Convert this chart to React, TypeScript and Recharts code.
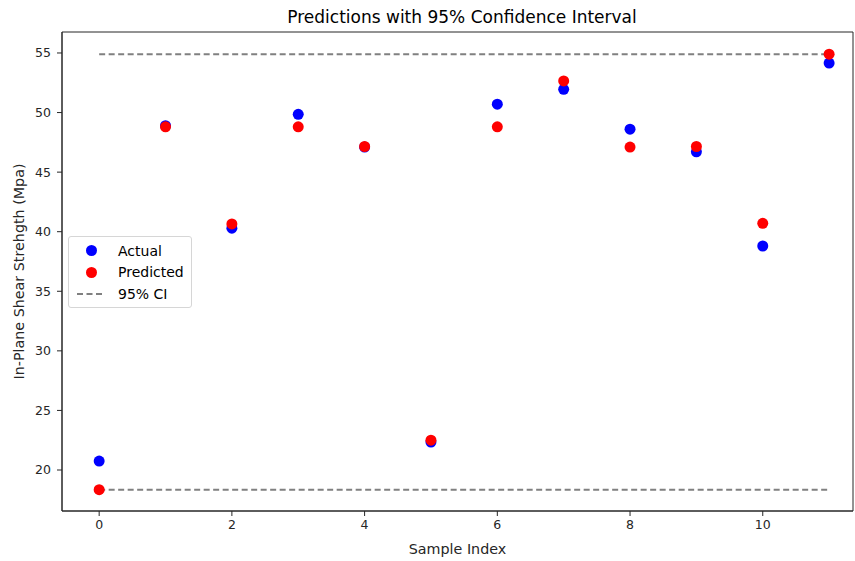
import {
  Label,
  ReferenceArea,
  ReferenceLine,
  Scatter,
  ScatterChart,
  XAxis,
  YAxis,
} from "recharts"

// Predicciones vs. valores reales con banda de confianza al 95 %
const FONT = "'DejaVu Sans', sans-serif"
const COLOR_ACTUAL = "#0000ff"
const COLOR_PREDICTED = "#ff0000"
const COLOR_CI = "#808080"
const AXIS = "#262626"

const sampleIndex = [0, 1, 2, 3, 4, 5, 6, 7, 8, 9, 10, 11]
const actual = [20.75, 48.9, 40.3, 49.85, 47.1, 22.35, 50.7, 51.95, 48.6, 46.7, 38.8, 54.15]
const predicted = [18.35, 48.8, 40.65, 48.8, 47.15, 22.5, 48.8, 52.65, 47.1, 47.15, 40.7, 54.9]
const ciLower = 18.35
const ciUpper = 54.9

const xDomain: [number, number] = [-0.56, 11.36]
const yDomain: [number, number] = [16.56, 56.76]
const xTicks = [0, 2, 4, 6, 8, 10]
const yTicks = [20, 25, 30, 35, 40, 45, 50, 55]

const actualData = sampleIndex.map((x, i) => ({ x, y: actual[i] }))
const predictedData = sampleIndex.map((x, i) => ({ x, y: predicted[i] }))

const dot = (color: string) => (props: { cx?: number; cy?: number }) => (
  <circle cx={props.cx} cy={props.cy} r={5.5} fill={color} />
)

type Box = { x: number; y: number; width: number; height: number }

const tickStyle = { fontSize: 12.5, fill: AXIS, fontFamily: FONT }
const LABEL_SIZE = 14.3

export default function App() {
  return (
    <div
      style={{
        position: "absolute",
        left: 0,
        top: 0,
        width: 855,
        height: 561,
        background: "#fff",
        fontFamily: FONT,
      }}
    >
      <div
        style={{
          position: "absolute",
          top: 6,
          left: 70,
          width: 784,
          textAlign: "center",
          fontSize: 17,
          lineHeight: "22px",
          color: "#000",
          whiteSpace: "nowrap",
        }}
      >
        Predictions with 95% Confidence Interval
      </div>

      <ScatterChart width={855} height={561} margin={{ top: 32, right: 2, bottom: 0, left: 0 }}>
        <XAxis
          dataKey="x"
          type="number"
          domain={xDomain}
          allowDataOverflow
          ticks={xTicks}
          height={50}
          tickSize={5}
          tickMargin={4}
          tick={tickStyle}
          stroke={AXIS}
        >
          <Label
            content={({ viewBox }) => {
              const vb = viewBox as Box
              return (
                <text
                  x={vb.x + vb.width / 2}
                  y={vb.y + 38}
                  textAnchor="middle"
                  dominantBaseline="central"
                  fontSize={LABEL_SIZE}
                  fontFamily={FONT}
                  fill={AXIS}
                >
                  Sample Index
                </text>
              )
            }}
          />
        </XAxis>
        <YAxis
          dataKey="y"
          type="number"
          domain={yDomain}
          allowDataOverflow
          ticks={yTicks}
          width={62}
          tickSize={5}
          tickMargin={6}
          tick={tickStyle}
          stroke={AXIS}
        >
          <Label
            content={({ viewBox }) => {
              const vb = viewBox as Box
              const cx = vb.x + 19
              const cy = vb.y + vb.height / 2
              return (
                <text
                  x={cx}
                  y={cy}
                  transform={`rotate(-90 ${cx} ${cy})`}
                  textAnchor="middle"
                  dominantBaseline="central"
                  fontSize={LABEL_SIZE}
                  fontFamily={FONT}
                  fill={AXIS}
                >
                  In-Plane Shear Strehgth (Mpa)
                </text>
              )
            }}
          />
        </YAxis>

        {/* marco completo del área de trazado */}
        <ReferenceArea
          x1={xDomain[0]}
          x2={xDomain[1]}
          y1={yDomain[0]}
          y2={yDomain[1]}
          fill="none"
          stroke={AXIS}
          strokeWidth={1}
          fillOpacity={0}
        />

        <ReferenceLine
          segment={[
            { x: sampleIndex[0], y: ciLower },
            { x: sampleIndex[sampleIndex.length - 1], y: ciLower },
          ]}
          stroke={COLOR_CI}
          strokeWidth={2}
          strokeDasharray="6 3.5"
        />
        <ReferenceLine
          segment={[
            { x: sampleIndex[0], y: ciUpper },
            { x: sampleIndex[sampleIndex.length - 1], y: ciUpper },
          ]}
          stroke={COLOR_CI}
          strokeWidth={2}
          strokeDasharray="6 3.5"
        />

        <Scatter data={actualData} shape={dot(COLOR_ACTUAL)} isAnimationActive={false} />
        <Scatter data={predictedData} shape={dot(COLOR_PREDICTED)} isAnimationActive={false} />
      </ScatterChart>

      {/* Leyenda */}
      <div
        style={{
          position: "absolute",
          left: 68,
          top: 236,
          width: 124,
          height: 72,
          boxSizing: "border-box",
          border: "1px solid #d6d6d6",
          borderRadius: 3,
          background: "rgba(255,255,255,0.8)",
          fontSize: 14,
          color: "#000",
          paddingTop: 3,
        }}
      >
        {[
          { label: "Actual", kind: "dot", color: COLOR_ACTUAL },
          { label: "Predicted", kind: "dot", color: COLOR_PREDICTED },
          { label: "95% CI", kind: "dash", color: COLOR_CI },
        ].map((item) => (
          <div key={item.label} style={{ height: 21.5, display: "flex", alignItems: "center" }}>
            <span style={{ width: 49, display: "flex", justifyContent: "center", alignItems: "center" }}>
              {item.kind === "dot" ? (
                <span
                  style={{
                    width: 11,
                    height: 11,
                    borderRadius: "50%",
                    background: item.color,
                    marginLeft: -5,
                  }}
                />
              ) : (
                <svg width={28} height={4} style={{ marginLeft: -5 }}>
                  <line x1={0} y1={2} x2={28} y2={2} stroke={item.color} strokeWidth={2} strokeDasharray="6 3.5" />
                </svg>
              )}
            </span>
            <span>{item.label}</span>
          </div>
        ))}
      </div>
    </div>
  )
}
